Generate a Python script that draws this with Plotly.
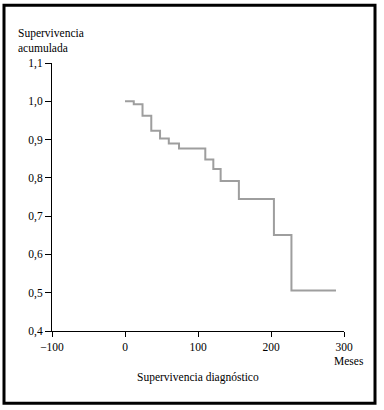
import plotly.graph_objects as go

# Data (Kaplan-Meier style step curve)
months = [0, 12, 24, 36, 48, 60, 74, 110, 121, 131, 156, 204, 228, 289]
survival = [1.0, 0.992, 0.962, 0.923, 0.903, 0.89, 0.877, 0.848, 0.823, 0.792, 0.745, 0.651, 0.506, 0.506]

x_ticks = [-100, 0, 100, 200, 300]
y_ticks = [0.4, 0.5, 0.6, 0.7, 0.8, 0.9, 1.0, 1.1]
y_tick_labels = ["0,4", "0,5", "0,6", "0,7", "0,8", "0,9", "1,0", "1,1"]

W, H = 384, 410
L, R, T, B = 52, 40, 62.5, 78.5
pw, ph = W - L - R, H - T - B

def px_to_paper_x(px):
    return (px - L) / pw

def px_to_paper_y(py):
    return (H - B - py) / ph

font = dict(family="Liberation Serif, DejaVu Serif, serif", size=11.5, color="black")

fig = go.Figure()
fig.add_trace(go.Scatter(
    x=months, y=survival, mode="lines", line_shape="hv",
    line=dict(color="#9e9e9e", width=2), showlegend=False, hoverinfo="skip"))

fig.update_layout(
    width=W, height=H,
    margin=dict(l=L, r=R, t=T, b=B),
    paper_bgcolor="white", plot_bgcolor="white",
    font=font,
    xaxis=dict(range=[-100, 300], tickvals=x_ticks, showgrid=False, zeroline=False,
               showline=True, linecolor="black", linewidth=1, ticks="outside",
               ticklen=5, tickcolor="black", tickfont=font, fixedrange=True),
    yaxis=dict(range=[0.4, 1.1], tickvals=y_ticks, ticktext=y_tick_labels, showgrid=False,
               zeroline=False, showline=True, linecolor="black", linewidth=1,
               ticks="outside", ticklen=6, tickcolor="black", tickfont=font, fixedrange=True),
    annotations=[
        dict(text="Supervivencia<br>acumulada", xref="paper", yref="paper",
             x=px_to_paper_x(16), y=px_to_paper_y(24), xanchor="left", yanchor="top",
             align="left", showarrow=False, font=font),
        dict(text="Meses", xref="paper", yref="paper",
             x=px_to_paper_x(349), y=px_to_paper_y(362), xanchor="center", yanchor="middle",
             showarrow=False, font=font),
        dict(text="Supervivencia diagnóstico", xref="paper", yref="paper",
             x=0.5, y=px_to_paper_y(378), xanchor="center", yanchor="middle",
             showarrow=False, font=font),
    ],
    shapes=[
        dict(type="rect", xref="paper", yref="paper",
             x0=px_to_paper_x(4), x1=px_to_paper_x(375),
             y0=px_to_paper_y(404), y1=px_to_paper_y(4.5),
             line=dict(color="black", width=3), fillcolor="rgba(0,0,0,0)", layer="above"),
    ],
)

fig.write_html("out.html", config={"displayModeBar": False, "staticPlot": True},
               post_script="document.body.style.margin='0';document.body.style.overflow='hidden';")
